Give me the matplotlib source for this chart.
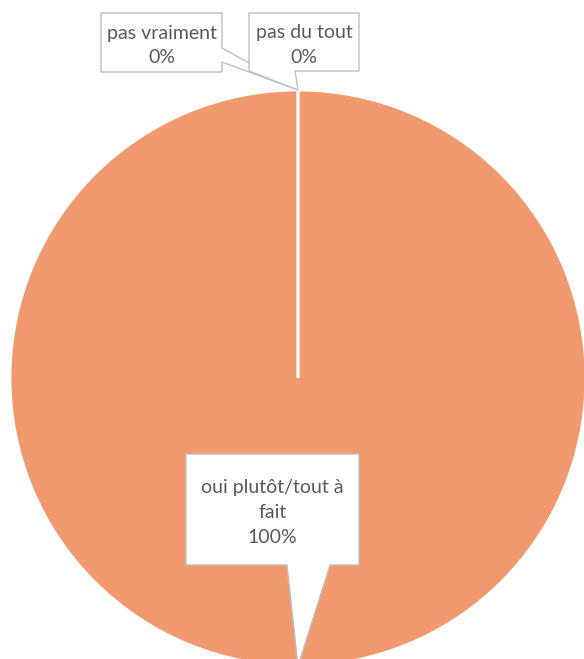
import numpy as np
import matplotlib
matplotlib.use("Agg")
import matplotlib.pyplot as plt
from matplotlib.patches import Polygon

# data
categories = ["oui plutôt/tout à\nfait", "pas vraiment", "pas du tout"]
values = [100, 0, 0]

W, H = 584, 659
CENTER = (298, H - 378)
RADIUS = 288
PIE_COLOR = "#F0996F"
TEXT_COLOR = "#595959"
BOX_EDGE = "#BFBFBF"

plt.rcParams["font.family"] = ["Lato", "DejaVu Sans"]


def callout(ax, text, box, side, base, tip, fontsize=14):
    """Draw an Excel-like callout: box with a triangular pointer.
    box = (x0, y0, x1, y1) in pixels from the top-left corner."""
    x0, y0, x1, y1 = box
    a, b = base
    pts = [(x0, y0), (x1, y0)]
    if side == "right":
        pts += [(x1, a), tip, (x1, b)]
    pts += [(x1, y1)]
    if side == "bottom":
        pts += [(b, y1), tip, (a, y1)]
    pts += [(x0, y1)]
    pts = [(x, H - y) for x, y in pts]
    ax.add_patch(Polygon(pts, closed=True, fc="white", ec=BOX_EDGE, lw=1, zorder=5))
    ax.text((x0 + x1) / 2, H - (y0 + y1) / 2 - 3, text, ha="center", va="center",
            color=TEXT_COLOR, fontsize=fontsize, linespacing=1.55, zorder=6)


fig = plt.figure(figsize=(W / 100, H / 100), dpi=100)
ax = fig.add_axes([0, 0, 1, 1])

wedges, _ = ax.pie(values, colors=[PIE_COLOR] * 3, startangle=90, counterclock=False,
                   center=CENTER, radius=RADIUS,
                   wedgeprops=dict(edgecolor="white", linewidth=2))

ax.set_xlim(0, W)
ax.set_ylim(0, H)
ax.set_aspect("equal")
ax.axis("off")

total = sum(values)
labels = [f"{c}\n{v / total:.0%}" for c, v in zip(categories, values)]

# pointer tips at the middle of each slice on the rim
tips = []
for w in wedges:
    mid = np.deg2rad((w.theta1 + w.theta2) / 2)
    tips.append((CENTER[0] + RADIUS * np.cos(mid), H - (CENTER[1] + RADIUS * np.sin(mid))))

callout(ax, labels[0], (186, 454, 359, 565), "bottom", (287, 330), tips[0])
callout(ax, labels[1], (101, 13, 222, 72), "right", (48, 62), tips[1])
callout(ax, labels[2], (249, 13, 359, 71), "bottom", (249, 295), tips[2])

fig.savefig("out.png", dpi=100)
